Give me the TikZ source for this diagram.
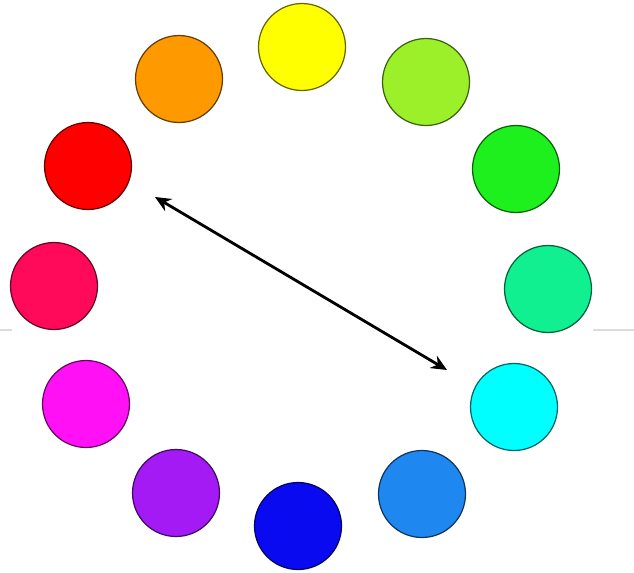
\documentclass[tikz,border=0pt]{standalone}
\usepackage{tikz}
\usetikzlibrary{arrows.meta}
\definecolor{hueyellow}{HTML}{FFFF00}
\definecolor{huelime}{HTML}{9CF02A}
\definecolor{huegreen}{HTML}{1EF01E}
\definecolor{huespring}{HTML}{10F090}
\definecolor{huecyan}{HTML}{00FFFF}
\definecolor{hueazure}{HTML}{1E88F0}
\definecolor{hueblue}{HTML}{0A0AF0}
\definecolor{huviolet}{HTML}{A31AF5}
\definecolor{huemagenta}{HTML}{FF10F5}
\definecolor{huerose}{HTML}{FF0A5A}
\definecolor{huered}{HTML}{FF0000}
\definecolor{hueorange}{HTML}{FF9900}
\definecolor{rulegray}{HTML}{DCDCDC}
\tikzset{
  wheel/.style={circle,minimum size=1.74cm,inner sep=0pt,line width=0.7pt},
  rim/.style={draw=rulegray,line width=1.1pt}
}

\begin{document}
\begin{tikzpicture}[x=0.02cm,y=-0.02cm]
          \useasboundingbox (0,0) rectangle (634,572);
          \draw[rim] (0,330) -- (12,330);
          \draw[rim] (593,330) -- (634,330);
          \foreach \n/\x/\y/\c in {yellow/302/47/hueyellow, lime/426/82/huelime,
              green/516/169/huegreen, spring/548/289/huespring, cyan/514/407/huecyan,
              azure/422/494/hueazure, blue/298/526/hueblue, violet/176/493/huviolet,
              magenta/86/404/huemagenta, rose/54/286/huerose, red/88/166/huered,
              orange/179/79/hueorange}{
            \node[wheel,fill=\c,draw=\c!40!black] (\n) at (\x,\y) {};
          }
          \coordinate (tipA) at (155,197);
          \coordinate (tipB) at (447,370);
          \draw[line width=1.6pt,{Stealth[length=9pt,width=8pt]}-{Stealth[length=9pt,width=8pt]}] (tipA) -- (tipB);
        \end{tikzpicture}
\end{document}
